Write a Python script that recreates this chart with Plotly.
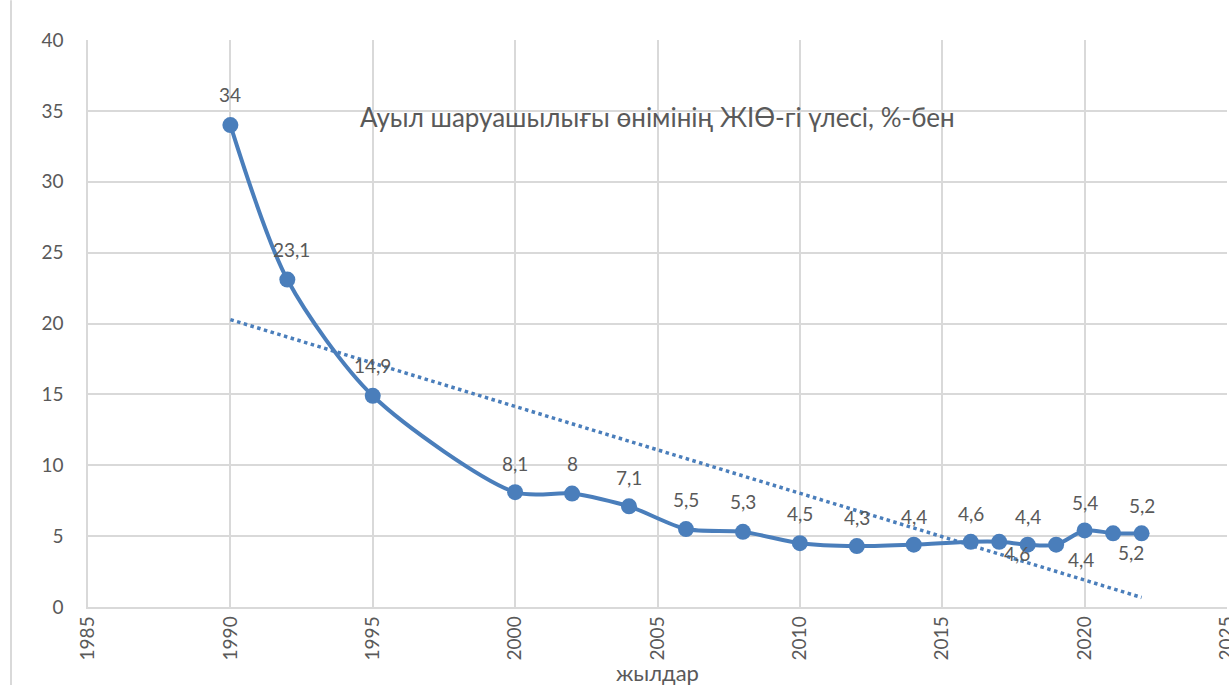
import numpy as np
import plotly.graph_objects as go

years = [1990, 1992, 1995, 2000, 2002, 2004, 2006, 2008, 2010, 2012, 2014,
         2016, 2017, 2018, 2019, 2020, 2021, 2022]
share = [34, 23.1, 14.9, 8.1, 8, 7.1, 5.5, 5.3, 4.5, 4.3, 4.4,
         4.6, 4.6, 4.4, 4.4, 5.4, 5.2, 5.2]
labels = ["34", "23,1", "14,9", "8,1", "8", "7,1", "5,5", "5,3", "4,5", "4,3", "4,4",
          "4,6", "4,6", "4,4", "4,4", "5,4", "5,2", "5,2"]
label_dx = [0, 4, 0, 0, 0, 0, 0, 0, 0, 0, 0,
            0, 18, 0, 25, 0, 18, 0]
label_dy = [31, 30, 30, 29, 30, 29, 30, 30, 30, 29, 28,
            28, -12, 28, -15, 28, -19, 28]

title_text = "Ауыл шаруашылығы өнімінің ЖІӨ-гі үлесі, %-бен"
x_title = "жылдар"

blue = "#4A7EBB"
grey = "#595959"
font = "Lato, 'Open Sans', sans-serif"

coef = np.polyfit(years, share, 1)
trend_x = [years[0], years[-1]]
trend_y = list(np.polyval(coef, trend_x))

fig = go.Figure()
fig.add_trace(go.Scatter(
    x=trend_x, y=trend_y, mode="lines",
    line=dict(color=blue, width=3.5, dash="dot"),
    hoverinfo="skip", showlegend=False))
fig.add_trace(go.Scatter(
    x=years, y=share, mode="lines+markers",
    line=dict(color=blue, width=4, shape="spline", smoothing=0.8),
    marker=dict(color=blue, size=16),
    showlegend=False))

for x, y, t, dx, dy in zip(years, share, labels, label_dx, label_dy):
    fig.add_annotation(x=x, y=y, text=t, showarrow=False, xshift=dx, yshift=dy,
                       xanchor="center", yanchor="middle",
                       font=dict(family=font, size=19, color=grey))

fig.add_annotation(x=0.5, y=0.865, xref="paper", yref="paper", text=title_text,
                   showarrow=False, xanchor="center", yanchor="middle",
                   font=dict(family=font, size=26, color=grey))
fig.add_annotation(x=0.5, y=-0.116, xref="paper", yref="paper", text=x_title,
                   showarrow=False, xanchor="center", yanchor="middle",
                   font=dict(family=font, size=22, color=grey))

# outer chart frame line on the left
fig.add_shape(type="line", xref="paper", yref="paper",
              x0=-0.0676, x1=-0.0676, y0=-0.2, y1=1.07,
              line=dict(color="#D9D9D9", width=2))

fig.update_layout(
    width=1229, height=685,
    margin=dict(l=88, r=2, t=40, b=78),
    paper_bgcolor="white", plot_bgcolor="white",
    font=dict(family=font, color=grey),
    xaxis=dict(range=[1985, 2025], dtick=5, tick0=1985, tickangle=-90,
               automargin=False, ticklabeloverflow="allow",
               showgrid=True, gridcolor="#D9D9D9", gridwidth=1.5,
               zeroline=False, showline=True, linecolor="#D9D9D9", linewidth=1.5,
               ticks="", tickfont=dict(size=19, color=grey, family=font)),
    yaxis=dict(range=[0, 40], dtick=5, automargin=False,
               showgrid=True, gridcolor="#D9D9D9",
               gridwidth=1.5, zeroline=False, showline=True, linecolor="#D9D9D9",
               linewidth=1.5, ticks="", ticklabelstandoff=19,
               tickfont=dict(size=19, color=grey, family=font)),
)

fig.write_html("out.html", config={"displayModeBar": False},
               post_script="document.body.style.margin='0';"
                           "document.body.style.overflow='hidden';")
